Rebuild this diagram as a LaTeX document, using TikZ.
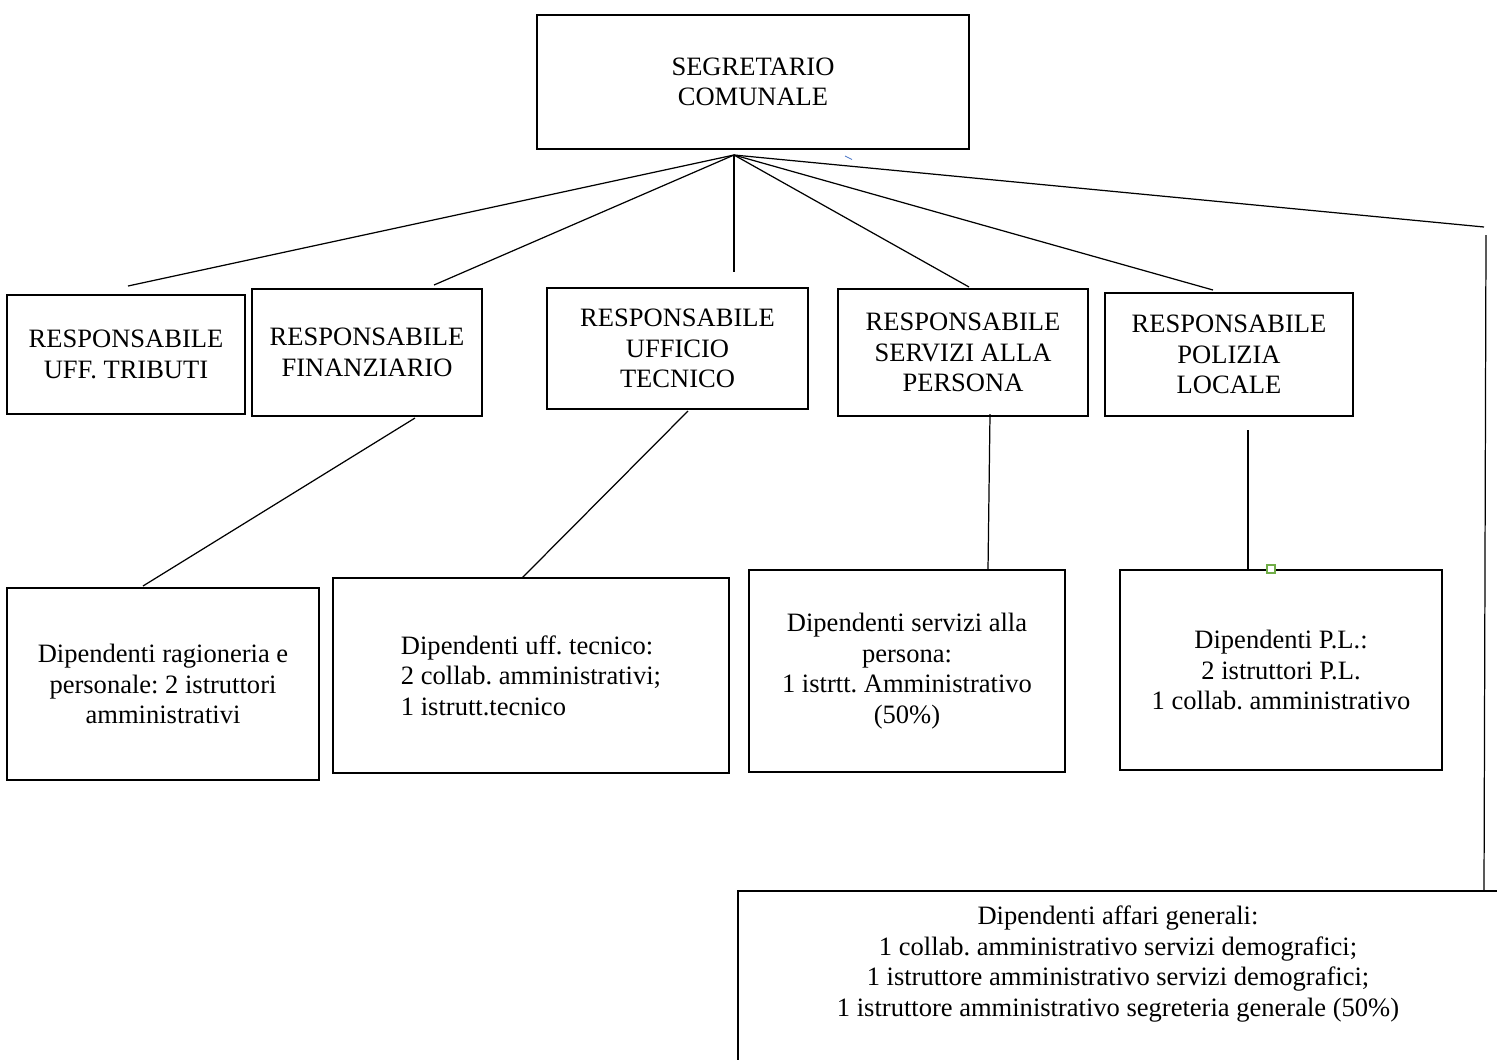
\documentclass[tikz,border=0pt]{standalone}
\usepackage{fontspec}
\setmainfont{Liberation Serif}
\usetikzlibrary{calc}
\definecolor{handlegreen}{HTML}{70AD47}
\definecolor{markblue}{HTML}{4472C4}
\frenchspacing
\begin{document}
\begin{tikzpicture}[x=0.02cm,y=-0.02cm,
  box/.style={draw, line width=1.6pt, inner sep=0pt, align=center,
    font=\fontsize{15.1}{17.4}\selectfont\frenchspacing},
  txt/.style={inner sep=0pt, align=center, font=\fontsize{15.1}{17.4}\selectfont\frenchspacing},
  conn/.style={line width=0.7pt}]
\useasboundingbox (0,0) rectangle (1497,1059);
% top
\node[box, minimum width=432*0.02cm, minimum height=134*0.02cm] (seg) at (753,82) {SEGRETARIO\\COMUNALE};
% second row
\node[box, minimum width=238*0.02cm, minimum height=119*0.02cm] (trib) at (126,354.5) {RESPONSABILE\\UFF. TRIBUTI};
\node[box, minimum width=230*0.02cm, minimum height=127*0.02cm] (fin) at (367,352.5) {RESPONSABILE\\FINANZIARIO};
\node[box, minimum width=261*0.02cm, minimum height=121*0.02cm] (tec) at (677.5,348.5) {RESPONSABILE\\UFFICIO\\TECNICO};
\node[box, minimum width=250*0.02cm, minimum height=127*0.02cm] (ser) at (963,352.5) {RESPONSABILE\\SERVIZI ALLA\\PERSONA};
\node[box, minimum width=248*0.02cm, minimum height=123*0.02cm] (pol) at (1229,354.5) {RESPONSABILE\\POLIZIA\\LOCALE};
% third row
\node[box, minimum width=312*0.02cm, minimum height=192*0.02cm] (rag) at (163,684) {Dipendenti ragioneria e\\personale: 2 istruttori\\amministrativi};
\node[box, align=left, minimum width=396*0.02cm, minimum height=195*0.02cm] (tecd) at (531,675.5) {Dipendenti uff. tecnico:\\2 collab. amministrativi;\\1 istrutt.tecnico};
\node[box, minimum width=316*0.02cm, minimum height=202*0.02cm] (serd) at (907,671) {Dipendenti servizi alla\\persona:\\1 istrtt. Amministrativo\\(50\%)};
\node[box, minimum width=322*0.02cm, minimum height=200*0.02cm] (pold) at (1281,670) {Dipendenti P.L.:\\2 istruttori P.L.\\1 collab. amministrativo};
% bottom (partly outside the page)
\begin{scope}
\clip (0,0) rectangle (1497,1059);
\draw[line width=1.6pt] (738,891) rectangle (1520,1080);
\end{scope}
\node[txt] (aff) at (1118,964) {Dipendenti affari generali:\\1 collab. amministrativo servizi demografici;\\1 istruttore amministrativo servizi demografici;\\1 istruttore amministrativo segreteria generale (50\%)};
% connector end points
\coordinate (hub) at (734,155);
\coordinate (t1) at (128,286);
\coordinate (t2) at (434,285);
\coordinate (t3) at (734,272);
\coordinate (t4) at (969,287);
\coordinate (t5) at (1213,290);
\coordinate (t6) at (1484,227);
\coordinate (r1) at (1486,235);
\coordinate (r2) at (1484,890);
\coordinate (f1) at (415,418);
\coordinate (f2) at (143,586);
\coordinate (e1) at (688,411);
\coordinate (e2) at (522,578);
\coordinate (s1) at (990,414);
\coordinate (s2) at (988,570);
\coordinate (p1) at (1248,430);
\coordinate (p2) at (1248,570);
\foreach \e in {t1,t2,t3,t4,t5,t6} \draw[conn] (hub) -- (\e);
\draw[conn] (r1) -- (r2);
\draw[conn] (f1) -- (f2);
\draw[conn] (e1) -- (e2);
\draw[conn] (s1) -- (s2);
\draw[conn] (p1) -- (p2);
% small artefacts
\coordinate (g) at (1271,569);
\draw[handlegreen, line width=1.2pt, fill=white] ($(g)+(-4,-4)$) rectangle ($(g)+(4,4)$);
\coordinate (b1) at (845,156);
\coordinate (b2) at (852,159.5);
\draw[markblue, line width=0.5pt] (b1) -- (b2);
\end{tikzpicture}
\end{document}
